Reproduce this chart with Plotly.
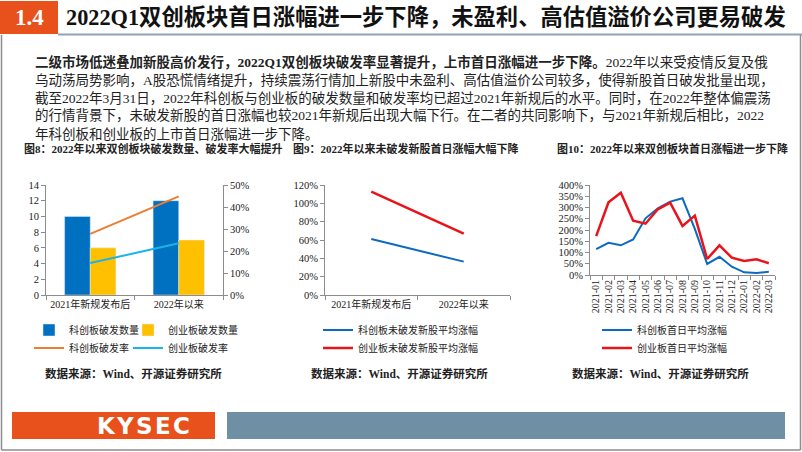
import plotly.graph_objects as go

W, H = 802, 452


def fx(px):
    return px / W


def fy(py):
    return 1 - py / H


FONT = "Liberation Serif, 'Noto Sans CJK SC', serif"
SANS = "'DejaVu Sans', 'Liberation Sans', sans-serif"

# ---------------- data ----------------
cats1 = ["2021年新规发布后", "2022年以来"]
star_break_count = [10, 12]
gem_break_count = [6, 7]
star_break_rate = [0.278, 0.448]
gem_break_rate = [0.145, 0.235]

cats2 = ["2021年新规发布后", "2022年以来"]
star_unbroken_gain = [0.61, 0.364]
gem_unbroken_gain = [1.127, 0.669]

months = ["2021-01", "2021-02", "2021-03", "2021-04", "2021-05", "2021-06",
          "2021-07", "2021-08", "2021-09", "2021-10", "2021-11", "2021-12",
          "2022-01", "2022-02", "2022-03"]
star_first_day = [1.15, 1.43, 1.32, 1.58, 2.52, 2.96, 3.26, 3.41, 2.05,
                  0.49, 0.81, 0.37, 0.12, 0.09, 0.14]
gem_first_day = [1.73, 3.23, 3.66, 2.41, 2.28, 2.92, 3.21, 2.18, 2.64,
                 0.71, 1.32, 0.77, 0.62, 0.70, 0.52]

BLUE = "#0070C0"
YELLOW = "#FFC000"
ORANGE = "#ED7D31"
CYAN = "#1AB3EA"
RED = "#E8141B"
BLUE2 = "#0B6BC2"

fig = go.Figure()

# ---------- chart 1 ----------
fig.add_trace(go.Bar(x=cats1, y=star_break_count, name="科创板破发数量",
                     marker_color=BLUE, xaxis="x", yaxis="y", legend="legend"))
fig.add_trace(go.Bar(x=cats1, y=gem_break_count, name="创业板破发数量",
                     marker_color=YELLOW, xaxis="x", yaxis="y", legend="legend2"))
fig.add_trace(go.Scatter(x=cats1, y=star_break_rate, name="科创板破发率", mode="lines",
                         line=dict(color=ORANGE, width=2), xaxis="x", yaxis="y2",
                         legend="legend3"))
fig.add_trace(go.Scatter(x=cats1, y=gem_break_rate, name="创业板破发率", mode="lines",
                         line=dict(color=CYAN, width=2), xaxis="x", yaxis="y2",
                         legend="legend4"))

# ---------- chart 2 ----------
fig.add_trace(go.Scatter(x=cats2, y=star_unbroken_gain, name="科创板未破发新股平均涨幅",
                         mode="lines", line=dict(color=BLUE2, width=2),
                         xaxis="x2", yaxis="y3", legend="legend5"))
fig.add_trace(go.Scatter(x=cats2, y=gem_unbroken_gain, name="创业板未破发新股平均涨幅",
                         mode="lines", line=dict(color=RED, width=2.5),
                         xaxis="x2", yaxis="y3", legend="legend6"))

# ---------- chart 3 ----------
fig.add_trace(go.Scatter(x=months, y=star_first_day, name="科创板首日平均涨幅",
                         mode="lines", line=dict(color=BLUE2, width=2),
                         xaxis="x3", yaxis="y4", legend="legend7"))
fig.add_trace(go.Scatter(x=months, y=gem_first_day, name="创业板首日平均涨幅",
                         mode="lines", line=dict(color=RED, width=2.5),
                         xaxis="x3", yaxis="y4", legend="legend8"))

AX = dict(showline=True, linecolor="#8c8c8c", linewidth=1, ticks="outside",
          ticklen=4, tickcolor="#8c8c8c", showgrid=False, zeroline=False,
          automargin=False,
          tickfont=dict(family=FONT, size=10.5, color="#222"), fixedrange=True)


def ax(**kw):
    d = dict(AX)
    d.update(kw)
    return d


CATFONT = dict(family=FONT, size=10, color="#222")

layout = dict(
    width=W, height=H, margin=dict(l=0, r=0, t=0, b=0, autoexpand=False),
    paper_bgcolor="white", plot_bgcolor="rgba(0,0,0,0)",
    barmode="group", bargap=0.42, bargroupgap=0,
    font=dict(family=FONT, color="#222"),
    xaxis=ax(domain=[fx(46), fx(223)], anchor="y", type="category",
             tickson="boundaries", tickangle=0, tickfont=CATFONT,
             range=[-0.5, len(cats1) - 0.5]),
    yaxis=ax(domain=[fy(295), fy(185)], anchor="x", range=[0, 14], dtick=2),
    yaxis2=ax(overlaying="y", side="right", anchor="x", range=[0, 0.5], dtick=0.1,
              tickformat=".0%"),
    xaxis2=ax(domain=[fx(325), fx(510)], anchor="y3", type="category",
              tickson="boundaries", tickangle=0, tickfont=CATFONT,
              range=[-0.5, len(cats2) - 0.5]),
    yaxis3=ax(domain=[fy(295), fy(185)], anchor="x2", range=[0, 1.2], dtick=0.2,
              tickformat=".0%"),
    xaxis3=ax(domain=[fx(590), fx(775)], anchor="y4", type="category",
              tickson="boundaries", tickangle=-90, tickfont=CATFONT,
              range=[-0.5, len(months) - 0.5]),
    yaxis4=ax(domain=[fy(275), fy(185)], anchor="x3", range=[0, 4], dtick=0.5,
              tickformat=".0%"),
    showlegend=True,
)

LEG = dict(xanchor="left", yanchor="middle", bgcolor="rgba(0,0,0,0)", borderwidth=0,
           orientation="h", font=dict(family=FONT, size=10, color="#222"))


def leg(px, py):
    d = dict(LEG)
    d.update(x=fx(px - 40), y=fy(py))
    return d


layout["legend"] = leg(69, 330)
layout["legend2"] = leg(168, 330)
layout["legend3"] = leg(69, 348)
layout["legend4"] = leg(168, 348)
layout["legend5"] = leg(358, 330)
layout["legend6"] = leg(358, 348)
layout["legend7"] = leg(637, 330)
layout["legend8"] = leg(637, 348)

fig.update_layout(**layout)

# ---------- decorations ----------
shapes = []
# header
shapes.append(dict(type="rect", xref="paper", yref="paper", x0=0, x1=fx(58),
                   y0=fy(34), y1=fy(1), fillcolor="#E8501C", line_width=0))
shapes.append(dict(type="line", xref="paper", yref="paper", x0=fx(58), x1=1,
                   y0=fy(34.5), y1=fy(34.5), line=dict(color="#8FA3B5", width=2)))
# frame
for (x0, y0, x1, y1) in [(1.5, 35, 1.5, 450), (1.5, 450, 800.5, 450),
                         (800.5, 35, 800.5, 450)]:
    shapes.append(dict(type="line", xref="paper", yref="paper", x0=fx(x0), x1=fx(x1),
                       y0=fy(y0), y1=fy(y1), line=dict(color="#8c8c8c", width=1.5)))
# footer
shapes.append(dict(type="rect", xref="paper", yref="paper", x0=fx(12), x1=fx(215),
                   y0=fy(439), y1=fy(412), fillcolor="#E8501C", line_width=0))
shapes.append(dict(type="rect", xref="paper", yref="paper", x0=fx(227), x1=fx(785),
                   y0=fy(439), y1=fy(412), fillcolor="#6E8FA4", line_width=0))
fig.update_layout(shapes=shapes)

ann = []


def text(px, py, t, size, color="#222", anchor="left", family=FONT):
    ann.append(dict(xref="paper", yref="paper", x=fx(px), y=fy(py), text=t,
                    showarrow=False, xanchor=anchor, yanchor="middle",
                    font=dict(family=family, size=size, color=color)))


text(29, 18, "<b>1.4</b>", 23, color="white", anchor="center")
text(64, 18, "<b>2022Q1双创板块首日涨幅进一步下降，未盈利、高估值溢价公司更易破发</b>", 22.3,
     color="#111")

body = [
    "<b>二级市场低迷叠加新股高价发行，2022Q1双创板块破发率显著提升，上市首日涨幅进一步下降。</b>2022年以来受疫情反复及俄",
    "乌动荡局势影响，A股恐慌情绪提升，持续震荡行情加上新股中未盈利、高估值溢价公司较多，使得新股首日破发批量出现，",
    "截至2022年3月31日，2022年科创板与创业板的破发数量和破发率均已超过2021年新规后的水平。同时，在2022年整体偏震荡",
    "的行情背景下，未破发新股的首日涨幅也较2021年新规后出现大幅下行。在二者的共同影响下，与2021年新规后相比，2022",
    "年科创板和创业板的上市首日涨幅进一步下降。",
]
for i, line in enumerate(body):
    text(33, 62 + 18 * i, line, 13.5, color="#222")

text(22, 148, "<b>图8：2022年以来双创板块破发数量、破发率大幅提升</b>", 11)
text(291, 148, "<b>图9：2022年以来未破发新股首日涨幅大幅下降</b>", 11)
text(555, 148, "<b>图10：2022年以来双创板块首日涨幅进一步下降</b>", 11)

for px in (43, 309, 570):
    text(px, 373, "<b>数据来源：Wind、开源证券研究所</b>", 11.5)

text(143, 426, "<b>K\u200aY\u200aS\u200aE\u200aC</b>", 23, color="white",
     anchor="center", family=SANS)

fig.update_layout(annotations=ann)

fig.write_html("out.html", config={"displayModeBar": False},
               post_script="document.body.style.margin='0';document.body.style.padding='0';")
